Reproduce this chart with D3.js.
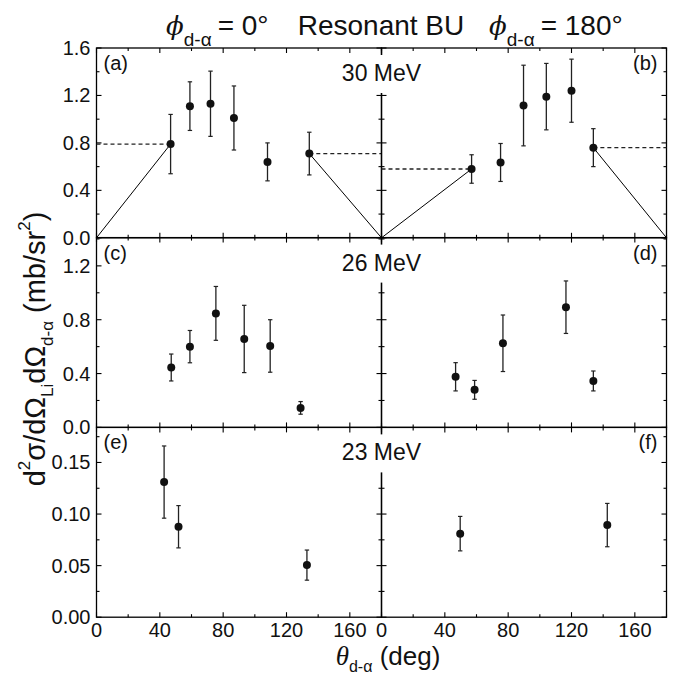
<!DOCTYPE html>
<html><head><meta charset="utf-8">
<script src="https://cdn.jsdelivr.net/npm/d3@7"></script>
<style>body{margin:0;background:#fff;}svg{display:block;font-family:"Liberation Sans",Arial,sans-serif;}</style>
</head><body>
<svg id="c" width="683" height="675"></svg>
<script>
// ---- data (theta in deg, cross section, symmetric error) ----
const thetaA = [46.8, 59, 72, 86.8, 108, 134.4];
const valA   = [0.79, 1.11, 1.13, 1.01, 0.64, 0.71];
const errA   = [0.25, 0.205, 0.275, 0.27, 0.16, 0.18];
const thetaB = [56.9, 75.2, 89.7, 104.1, 120, 133.8];
const valB   = [0.58, 0.635, 1.115, 1.19, 1.24, 0.76];
const errB   = [0.12, 0.16, 0.34, 0.28, 0.266, 0.16];
const thetaC = [47.2, 59, 75.4, 93.3, 109.7, 128.9];
const valC   = [0.445, 0.60, 0.847, 0.657, 0.605, 0.145];
const errC   = [0.10, 0.12, 0.20, 0.25, 0.195, 0.047];
const thetaD = [46.8, 58.8, 76.7, 116.5, 133.8];
const valD   = [0.376, 0.279, 0.625, 0.893, 0.345];
const errD   = [0.105, 0.07, 0.21, 0.195, 0.074];
const thetaE = [42.7, 51.8, 132.9];
const valE   = [0.131, 0.0877, 0.0505];
const errE   = [0.035, 0.0205, 0.0146];
const thetaF = [49.7, 142.6];
const valF   = [0.081, 0.0893];
const errF   = [0.0167, 0.021];

const energies = ["30 MeV", "26 MeV", "23 MeV"];
const panelTags = [["(a)","(b)"],["(c)","(d)"],["(e)","(f)"]];
const xTicks = [0, 40, 80, 120, 160];
const yTickLabels = [["0.0","0.4","0.8","1.2","1.6"],["0.0","0.4","0.8","1.2"],["0.00","0.05","0.10","0.15"]];
const yMax = [1.6, 1.41, 0.184];
const yMajor = [0.4, 0.4, 0.05];

const series = [
  [{t:thetaA,v:valA,e:errA,lines:true},{t:thetaB,v:valB,e:errB,lines:true}],
  [{t:thetaC,v:valC,e:errC},{t:thetaD,v:valD,e:errD}],
  [{t:thetaE,v:valE,e:errE},{t:thetaF,v:valF,e:errF}]
];

const svg = d3.select("#c");
const colX0 = [96.5, 381.5], colW = 285;
const rowY0 = [48, 237.6, 427.4], rowH = 189.8;

function ticksOf(max, step){ const r=[]; for(let v=0; v<=max+1e-9; v+=step) r.push(+v.toFixed(6)); return r; }

for (let r=0; r<3; r++){
  for (let c=0; c<2; c++){
    const x = d3.scaleLinear().domain([0,180]).range([colX0[c], colX0[c]+colW]);
    const y = d3.scaleLinear().domain([0,yMax[r]]).range([rowY0[r]+rowH, rowY0[r]]);
    const g = svg.append("g");
    const x0=x(0), x1=x(180), y0=y(0), y1=y(yMax[r]);
    g.append("rect").attr("x",x0).attr("y",y1).attr("width",x1-x0).attr("height",y0-y1)
      .attr("fill","none").attr("stroke","#000").attr("stroke-width",1.3);
    const xt = ticksOf(180,20);
    xt.forEach(t=>{
      const L = (t%40===0)?5:3;
      g.append("line").attr("x1",x(t)).attr("x2",x(t)).attr("y1",y0).attr("y2",y0-L).attr("stroke","#000").attr("stroke-width",1.1);
      g.append("line").attr("x1",x(t)).attr("x2",x(t)).attr("y1",y1).attr("y2",y1+L).attr("stroke","#000").attr("stroke-width",1.1);
    });
    const yt = ticksOf(yMax[r], yMajor[r]/2);
    yt.forEach((t,i)=>{
      const L = (i%2===0)?5:3;
      g.append("line").attr("x1",x0).attr("x2",x0+L).attr("y1",y(t)).attr("y2",y(t)).attr("stroke","#000").attr("stroke-width",1.1);
      g.append("line").attr("x1",x1).attr("x2",x1-L).attr("y1",y(t)).attr("y2",y(t)).attr("stroke","#000").attr("stroke-width",1.1);
    });
    if (c===0){
      yTickLabels[r].forEach((lab,i)=>{
        g.append("text").attr("x",x0-6).attr("y",y(i*yMajor[r])+7).attr("text-anchor","end")
          .attr("font-size",20).attr("fill","#111").text(lab);
      });
    }
    if (r===2){
      xTicks.forEach(t=>{
        g.append("text").attr("x",x(t)).attr("y",y0+20).attr("text-anchor","middle")
          .attr("font-size",20).attr("fill","#111").text(t);
      });
    }
    const s = series[r][c];
    if (s.lines){
      const n = s.t.length-1;
      const dash = "4,3";
      g.append("line").attr("x1",x(0)).attr("x2",x(s.t[0])).attr("y1",y(s.v[0])).attr("y2",y(s.v[0]))
        .attr("stroke","#222").attr("stroke-width",1.3).attr("stroke-dasharray",dash);
      g.append("line").attr("x1",x(s.t[n])).attr("x2",x(180)).attr("y1",y(s.v[n])).attr("y2",y(s.v[n]))
        .attr("stroke","#222").attr("stroke-width",1.3).attr("stroke-dasharray",dash);
      g.append("line").attr("x1",x(0)).attr("x2",x(s.t[0])).attr("y1",y(0)).attr("y2",y(s.v[0]))
        .attr("stroke","#000").attr("stroke-width",1);
      g.append("line").attr("x1",x(s.t[n])).attr("x2",x(180)).attr("y1",y(s.v[n])).attr("y2",y(0))
        .attr("stroke","#000").attr("stroke-width",1);
    }
    s.t.forEach((t,i)=>{
      const cx=x(t), hi=y(s.v[i]+s.e[i]), lo=y(s.v[i]-s.e[i]);
      g.append("line").attr("x1",cx).attr("x2",cx).attr("y1",hi).attr("y2",lo).attr("stroke","#222").attr("stroke-width",1.3);
      [hi,lo].forEach(yy=>g.append("line").attr("x1",cx-2.2).attr("x2",cx+2.2).attr("y1",yy).attr("y2",yy).attr("stroke","#222").attr("stroke-width",1.2));
      g.append("circle").attr("cx",cx).attr("cy",y(s.v[i])).attr("r",4).attr("fill","#111");
    });
    g.append("text").attr("x", c===0 ? x0+7 : x1-9).attr("y", y1+22)
      .attr("text-anchor", c===0 ? "start":"end").attr("font-size",20).attr("fill","#111").text(panelTags[r][c]);
  }
  const cx = colX0[1], top = rowY0[r];
  svg.append("rect").attr("x",cx-12).attr("y",top+7).attr("width",24).attr("height",38).attr("fill","#fff");
  svg.append("text").attr("x",cx).attr("y",top+33).attr("text-anchor","middle").attr("font-size",23).attr("fill","#111").text(energies[r]);
}

// title
function phiPart(x, val){
  const t = svg.append("text").attr("x",x).attr("y",35).attr("font-size",28).attr("fill","#111");
  t.append("tspan").attr("font-style","italic").attr("font-family","'DejaVu Serif',serif").attr("font-size",26).text("ϕ");
  t.append("tspan").attr("font-size",19).attr("dy",11).text("d-α");
  t.append("tspan").attr("dy",-11).attr("dx",6).text("= "+val);
}
phiPart(166, "0°");
svg.append("text").attr("x",381).attr("y",35).attr("text-anchor","middle").attr("font-size",28).attr("fill","#111").text("Resonant BU");
phiPart(489, "180°");

// x axis label
const xl = svg.append("text").attr("x",388).attr("y",665).attr("text-anchor","middle").attr("font-size",26).attr("fill","#111");
xl.append("tspan").attr("font-style","italic").attr("font-family","'Liberation Serif',serif").attr("font-size",27).text("θ");
xl.append("tspan").attr("font-size",16).attr("dy",7).text("d-α");
xl.append("tspan").attr("dy",-7).text(" (deg)");

// y axis label
const yl = svg.append("text").attr("transform","translate(45,349) rotate(-90)").attr("text-anchor","middle").attr("font-size",29).attr("fill","#111");
yl.append("tspan").text("d");
yl.append("tspan").attr("font-size",17).attr("dy",-15).text("2");
yl.append("tspan").attr("dy",15).text("σ/dΩ");
yl.append("tspan").attr("font-size",17).attr("dy",8).text("Li");
yl.append("tspan").attr("dy",-8).text("dΩ");
yl.append("tspan").attr("font-size",17).attr("dy",8).text("d-α");
yl.append("tspan").attr("dy",-8).text(" (mb/sr");
yl.append("tspan").attr("font-size",17).attr("dy",-15).text("2");
yl.append("tspan").attr("dy",15).text(")");
</script>
</body></html>
